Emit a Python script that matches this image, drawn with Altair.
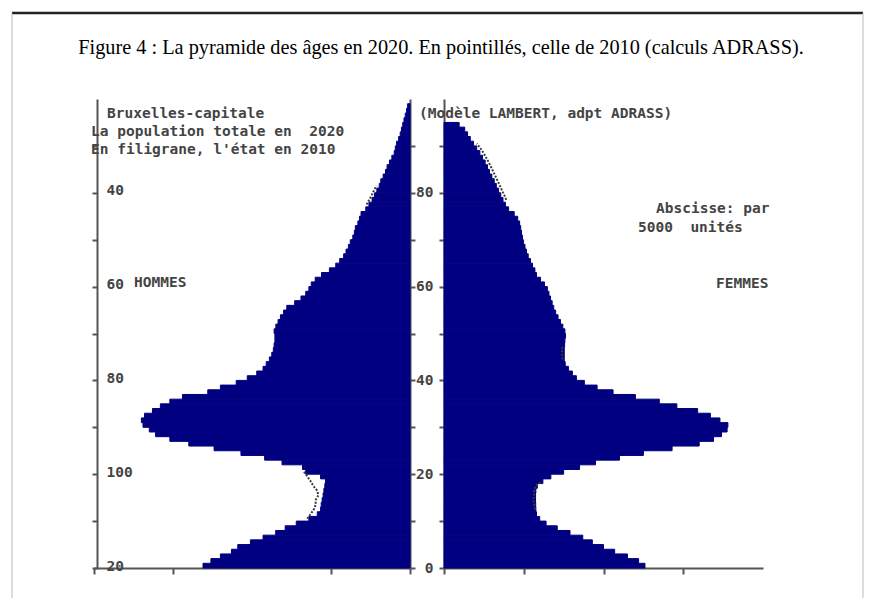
import altair as alt
import pandas as pd

# ---------------- data ----------------
men_ages = list(range(0, 99))
men_2020 = [13100, 12600, 12000, 11300, 10900, 10100, 9300, 8500, 7900, 7200,
            6400, 5870, 5660, 5620, 5560, 5500, 5450, 5390, 5350, 5660,
            6600, 6800, 8100, 9200, 10700, 12400, 14000, 15200, 16100, 16500,
            16900, 17000, 16800, 16300, 15800, 15200, 14400, 12800, 12000, 11000,
            10300, 9700, 9300, 9100, 8900, 8750, 8650, 8600, 8550, 8550,
            8600, 8490, 8350, 8200, 8000, 7800, 7300, 6900, 6600, 6400,
            6250, 6000, 5600, 5100, 4700, 4450, 4200, 4050, 3900, 3780,
            3620, 3520, 3460, 3300, 3200, 3100, 2800, 2600, 2400, 2250,
            2100, 1950, 1850, 1700, 1550, 1450, 1300, 1150, 1000, 930,
            850, 720, 620, 540, 460, 380, 300, 220, 150]

women_ages = list(range(0, 95))
women_2020 = [12600, 12200, 11500, 10700, 10000, 9300, 8700, 7900, 7100, 6400,
              6000, 5800, 5760, 5750, 5740, 5740, 5760, 5850, 6200, 6700,
              7500, 8500, 9500, 11000, 12500, 14300, 16000, 16900, 17400, 17750,
              17800, 17300, 16700, 15900, 14600, 13500, 12000, 10600, 9600, 8800,
              8300, 8050, 7800, 7600, 7540, 7540, 7540, 7560, 7580, 7620,
              7580, 7450, 7300, 7150, 7000, 6880, 6780, 6680, 6580, 6480,
              6300, 6050, 5800, 5700, 5550, 5420, 5280, 5170, 5080, 4980,
              4920, 4860, 4810, 4740, 4620, 4400, 4050, 3850, 3700, 3560,
              3420, 3280, 3150, 3000, 2850, 2730, 2580, 2420, 2250, 2050,
              1850, 1650, 1480, 1300, 950]

# 2010 outline: only the stretches visible outside the 2020 bars
men_2010_ages = [10, 11, 12, 13, 14, 15, 16, 17, 18, 19, 20, 77, 78, 79, 80, 81]
men_2010 = [6500, 6290, 6080, 5970, 5970, 5800, 5870, 6120, 6290, 6500, 6710,
            2750, 2580, 2420, 2280, 2120]
men_2010_seg = ["a"] * 11 + ["b"] * 5

women_2010_ages = [12, 13, 14, 15, 16, 17, 18, 44, 45, 46, 47,
                   78, 79, 80, 81, 82, 83, 84, 85, 86, 87, 88, 89, 90]
women_2010 = [5700, 5650, 5600, 5650, 5650, 5750, 6150, 7450, 7400, 7400, 7450,
              3900, 3780, 3640, 3500, 3370, 3230, 3090, 2950, 2800, 2640, 2480, 2280, 2050]
women_2010_seg = ["a"] * 7 + ["b"] * 4 + ["c"] * 13

title_text = "Figure 4 : La pyramide des âges en 2020. En pointillés, celle de 2010 (calculs ADRASS)."
left_notes = ["Bruxelles-capitale", "La population totale en\u00a0 2020", "En filigrane, l'état en 2010"]
right_note = "(Modèle LAMBERT, adpt ADRASS)"
scale_notes = ["Abscisse: par", "5000\u00a0 unités"]
men_label = "HOMMES"
women_label = "FEMMES"
left_axis_values = [0, 5000, 15000, 20000]
right_axis_values = [0, 5000, 10000, 15000]
age_ticks = list(range(0, 100, 10))

# ---------------- style ----------------
NAVY = "#000080"
TXT = "#444444"
AX = "#555555"
MONO = "DejaVu Sans Mono"
FS = 14.5
H = 469
WL = 316
WR = 319

men_df = pd.DataFrame({"age": men_ages, "value": men_2020})
women_df = pd.DataFrame({"age": women_ages, "value": women_2020})
men10_df = pd.DataFrame({"age": men_2010_ages, "value": men_2010, "seg": men_2010_seg})
women10_df = pd.DataFrame({"age": women_2010_ages, "value": women_2010, "seg": women_2010_seg})

yscale = alt.Scale(domain=[0, 100], nice=False, zero=True)


def note(txt, x, y, size=FS, font=MONO, weight="bold", color=TXT, align="left"):
    return alt.Chart(pd.DataFrame({"t": [txt]})).mark_text(
        font=font, fontSize=size, fontWeight=weight, color=color,
        align=align, baseline="middle").encode(
        text="t:N", x=alt.value(x), y=alt.value(y))


def rule(x, x2, y, y2, color, width):
    return alt.Chart(pd.DataFrame({"d": [0]})).mark_rule(
        color=color, strokeWidth=width).encode(
        x=alt.value(x), x2=alt.value(x2), y=alt.value(y), y2=alt.value(y2))


def x_axis(vals):
    return alt.Axis(values=vals, labels=False, title=None, grid=False,
                    tickSize=6, tickWidth=2, tickColor=AX,
                    domainColor=AX, domainWidth=2)


# ---------------- left panel (men) ----------------
xl = alt.Scale(domain=[0, 20000], reverse=True, nice=False)
left_label_expr = ("datum.value == 80 ? '40' : datum.value == 60 ? '60' : "
                   "datum.value == 40 ? '80' : datum.value == 20 ? '100' : "
                   "datum.value == 0 ? '20' : ''")
left_y_axis = alt.Axis(orient="left", values=age_ticks, labelExpr=left_label_expr,
                       title=None, grid=False, offset=-3,
                       tickSize=5, tickWidth=2, tickColor=AX,
                       domainColor=AX, domainWidth=2,
                       labelAlign="left", labelPadding=-14, labelBaseline="middle",
                       labelOffset=-2,
                       labelFont=MONO, labelFontSize=FS, labelFontWeight="bold",
                       labelColor=TXT)
left_right_axis = alt.Axis(orient="right", values=age_ticks, labels=False, title=None,
                           grid=False, tickSize=5, tickWidth=2, tickColor=AX,
                           domainColor=AX, domainWidth=2)

men_bars = alt.Chart(men_df).transform_calculate(
    top="datum.age + 1", zero="0").mark_rect(
    color=NAVY, stroke=NAVY, strokeWidth=1).encode(
    x=alt.X("value:Q", scale=xl, axis=x_axis(left_axis_values)),
    x2="zero:Q",
    y=alt.Y("age:Q", scale=yscale, axis=left_y_axis),
    y2="top:Q",
)

men_line = alt.Chart(men10_df).transform_calculate(
    mid="datum.age + 0.5").mark_line(
    color="#3a3a3a", strokeWidth=2, strokeDash=[2, 1.5]).encode(
    x=alt.X("value:Q", scale=xl, axis=x_axis(left_axis_values)),
    y=alt.Y("mid:Q", scale=yscale, axis=left_right_axis),
    detail="seg:N",
    order="age:Q",
)

left = alt.layer(
    men_bars,
    men_line,
    note(men_label, 40, 184),
    note(left_notes[0], 13, 15),
    note(left_notes[1], -3, 33),
    note(left_notes[2], -3, 51),
    note(title_text, 347, -51, size=20.3, font="Liberation Serif", weight="normal",
         color="#000000", align="center"),
    rule(-82, 769, -86, -86, "#222222", 2.5),
    rule(-82, -82, -86, 499, "#bbbbbb", 1),
).resolve_axis(y="independent").properties(width=WL, height=H)

# ---------------- right panel (women) ----------------
xr = alt.Scale(domain=[0, 20000], nice=False)
right_y_axis = alt.Axis(orient="left", values=age_ticks,
                        labelExpr="datum.value % 20 == 0 ? datum.label : ''",
                        title=None, grid=False,
                        tickSize=5, tickWidth=2, tickColor=AX,
                        domainColor=AX, domainWidth=2,
                        labelAlign="right", labelPadding=6, labelBaseline="middle",
                        labelFont=MONO, labelFontSize=FS, labelFontWeight="bold",
                        labelColor=TXT)

women_bars = alt.Chart(women_df).transform_calculate(
    top="datum.age + 1", zero="0").mark_rect(
    color=NAVY, stroke=NAVY, strokeWidth=1).encode(
    x=alt.X("value:Q", scale=xr, axis=x_axis(right_axis_values)),
    x2="zero:Q",
    y=alt.Y("age:Q", scale=yscale, axis=right_y_axis),
    y2="top:Q",
)

women_line = alt.Chart(women10_df).transform_calculate(
    mid="datum.age + 0.5").mark_line(
    color="#3a3a3a", strokeWidth=2, strokeDash=[2, 1.5]).encode(
    x=alt.X("value:Q", scale=xr, axis=x_axis(right_axis_values)),
    y=alt.Y("mid:Q", scale=yscale, axis=right_y_axis),
    detail="seg:N",
    order="age:Q",
)

right = alt.layer(
    women_bars,
    women_line,
    note(women_label, 272, 185),
    note(right_note, -25, 15),
    note(scale_notes[0], 212, 110),
    note(scale_notes[1], 194, 129),
    rule(419, 419, -86, 499, "#bbbbbb", 1),
).properties(width=WR, height=H)

chart = alt.hconcat(left, right, spacing=34, bounds="flush").properties(
    padding={"left": 2, "top": 3, "right": 0, "bottom": 0},
    background="white",
).configure_view(strokeWidth=0)

chart.save("out.html", embed_options={"renderer": "svg", "actions": False})
